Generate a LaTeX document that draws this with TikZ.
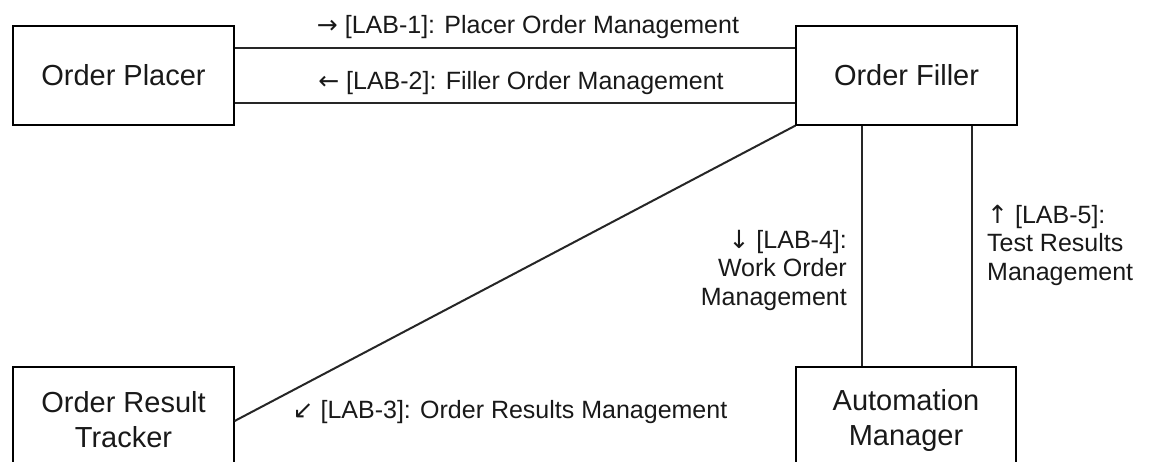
\documentclass[tikz,border=0pt]{standalone}
\usepackage{fontspec}
\setmainfont{Liberation Sans}
\newfontfamily\arrowfont{DejaVu Sans}
\begin{document}
\begin{tikzpicture}[x=1pt,y=-1pt,
  box/.style={draw, line width=1.2pt, minimum width=221pt, inner sep=0pt, align=center,
    font=\fontsize{29}{35}\selectfont, text=black!90},
  lbl/.style={inner sep=0pt, font=\fontsize{25}{28.5}\selectfont, text=black!90},
  conn/.style={line width=2pt, black!85}]
\path[use as bounding box, clip] (0,0) rectangle (1172,462);
\fill[white] (0,0) rectangle (1172,462);
\node[box, minimum height=99pt] (placer) at (123.5,75.5) {Order Placer};
\node[box, minimum height=99pt] (filler) at (906.5,75.5) {Order Filler};
\node[box, minimum height=106pt] (tracker) at (123.5,420) {Order Result\\Tracker};
\node[box, minimum height=106pt, minimum width=220pt] (am) at (906,420) {Automation\\Manager};
\draw[conn] ([yshift=27.5pt]placer.east) -- ([yshift=27.5pt]filler.west);
\draw[conn] ([yshift=-27.5pt]placer.east) -- ([yshift=-27.5pt]filler.west);
\draw[conn] (filler.south west) -- ([yshift=-1pt]tracker.east);
\draw[conn] ([xshift=-44.5pt]filler.south) -- ([xshift=-44pt]am.north);
\draw[conn] ([xshift=65.5pt]filler.south) -- ([xshift=66pt]am.north);
\node[lbl] (l1) at (528,27) {{\arrowfont →} [LAB-1]: Placer Order Management};
\node[lbl] (l2) at (521,83) {{\arrowfont ←} [LAB-2]: Filler Order Management};
\node[lbl] (l3) at (510,412) {{\arrowfont ↙} [LAB-3]: Order Results Management};
\node[lbl, align=right, anchor=east] (l4) at (847,270) {{\arrowfont ↓} [LAB-4]:\\Work Order\\Management};
\node[lbl, align=left, anchor=west] (l5) at (987,245) {{\arrowfont ↑} [LAB-5]:\\Test Results\\Management};
\end{tikzpicture}
\end{document}
